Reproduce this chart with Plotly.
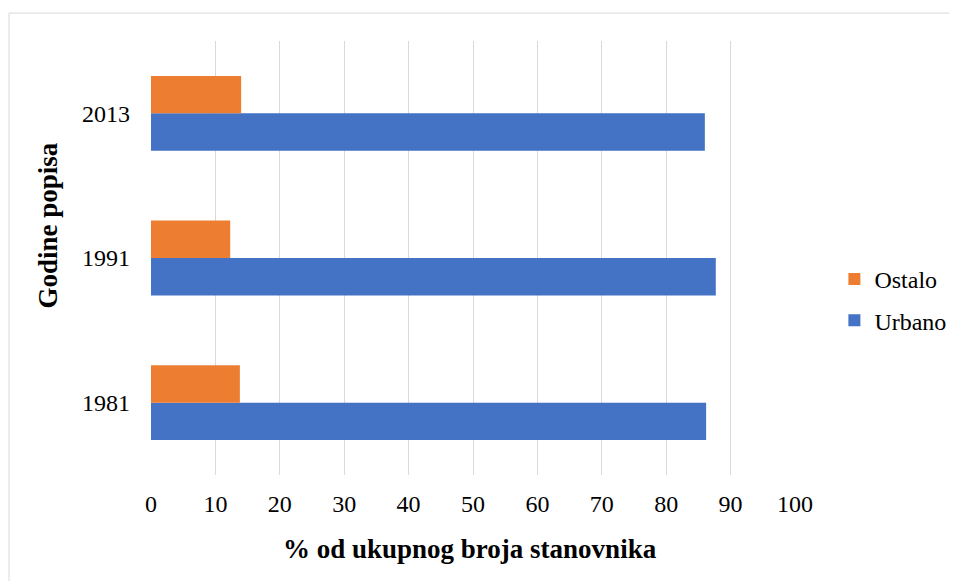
import plotly.graph_objects as go

years = ["1981", "1991", "2013"]
urbano = [86.2, 87.7, 86.0]
ostalo = [13.8, 12.3, 14.0]
x_ticks = [0, 10, 20, 30, 40, 50, 60, 70, 80, 90, 100]

FONT = "Liberation Serif"
OFF = 8  # page body margin

fig = go.Figure()
fig.add_trace(go.Bar(y=years, x=urbano, name="Urbano", orientation="h",
                     marker=dict(color="#4472C4", line=dict(width=0)),
                     legendgroup="u", legendrank=2))
fig.add_trace(go.Bar(y=years, x=ostalo, name="Ostalo", orientation="h",
                     marker=dict(color="#ED7D31", line=dict(width=0)),
                     legendgroup="o", legendrank=1))

W, H = 957 - 2 * OFF, 581 - OFF
# page coordinates of plot area
PL, PR, PT, PB = 150.5, 794.6, 40.5, 475.5
ml, mt = PL - OFF, PT - OFF
mr = W - (PR - OFF)
mb = H - (PB - OFF)
pw = PR - PL
ph = PB - PT


def px(xp):
    return (xp - PL) / pw


def py(yp):
    return (PB - yp) / ph


fig.update_layout(
    width=W, height=H,
    margin=dict(l=ml, r=mr, t=mt, b=mb, pad=0, autoexpand=False),
    paper_bgcolor="white", plot_bgcolor="white",
    barmode="group", bargap=0.483, bargroupgap=0,
    font=dict(family=FONT, size=24, color="#000000"),
    xaxis=dict(range=[0, 100], tickvals=x_ticks, showgrid=True,
               gridcolor="#d9d9d9", gridwidth=1, zeroline=False,
               showline=False, ticks="", ticklabelstandoff=12,
               tickfont=dict(size=24, family=FONT), automargin=False),
    yaxis=dict(type="category", categoryarray=years, showgrid=False,
               zeroline=False, showline=False, ticks="",
               ticklabelstandoff=20, tickfont=dict(size=24, family=FONT),
               automargin=False),
    legend=dict(x=px(834), y=py(257), xanchor="left", yanchor="top",
                traceorder="grouped", tracegroupgap=7,
                font=dict(size=24, family=FONT), bgcolor="rgba(0,0,0,0)"),
    showlegend=True,
    annotations=[
        dict(text="<b>% od ukupnog broja stanovnika</b>", xref="paper", yref="paper",
             x=px(470), y=py(550), xanchor="center", yanchor="middle",
             showarrow=False, font=dict(size=27, family=FONT)),
        dict(text="<b>Godine popisa</b>", xref="paper", yref="paper",
             x=px(48), y=py(226), xanchor="center", yanchor="middle",
             textangle=-90, showarrow=False, font=dict(size=27, family=FONT)),
    ],
    shapes=[dict(type="rect", xref="paper", yref="paper",
                 x0=px(8.5), x1=2.0, y0=-2.0, y1=py(12.5),
                 line=dict(color="#d9d9d9", width=1), fillcolor="rgba(0,0,0,0)",
                 layer="below")],
)

fig.write_html("out.html")
